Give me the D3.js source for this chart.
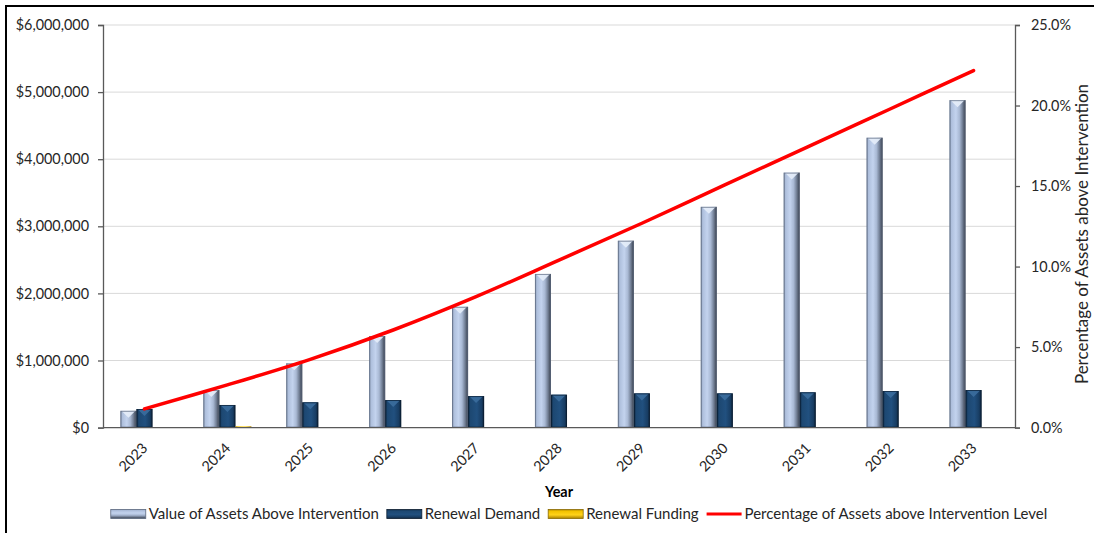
<!DOCTYPE html>
<html>
<head>
<meta charset="utf-8">
<script src="https://cdn.jsdelivr.net/npm/d3@7"></script>
<style>
  html, body { margin: 0; padding: 0; background: #fff; }
  svg { display: block; font-family: Lato, "Noto Sans", sans-serif; }
</style>
</head>
<body>
<svg id="chart" width="1094" height="533"></svg>
<script>
// Asset renewal projection by year
const years = ["2023", "2024", "2025", "2026", "2027", "2028", "2029", "2030", "2031", "2032", "2033"];
const valueAboveIntervention = [250000, 560000, 958000, 1365000, 1800000, 2290000, 2785000, 3290000, 3800000, 4320000, 4880000];
const renewalDemand = [277000, 337000, 377000, 411000, 470000, 490000, 510000, 510000, 526000, 545000, 560000];
const renewalFunding = [0, 20000, 0, 0, 0, 0, 0, 0, 0, 0, 0];
const pctAboveIntervention = [0.0116, 0.0265, 0.0424, 0.0606, 0.0813, 0.104, 0.1269, 0.1507, 0.1743, 0.198, 0.2217];

const leftTicks = [0, 1000000, 2000000, 3000000, 4000000, 5000000, 6000000];
const rightTicks = [0, 0.05, 0.10, 0.15, 0.20, 0.25];

const seriesNames = ["Value of Assets Above Intervention", "Renewal Demand", "Renewal Funding"];
const seriesValues = [valueAboveIntervention, renewalDemand, renewalFunding];
const lineName = "Percentage of Assets above Intervention Level";
const xTitle = "Year";
const yRightTitle = "Percentage of Assets above Intervention";

const svg = d3.select("#chart");
const plot = { left: 103, right: 1015, top: 25, bottom: 427.6 };
const textColor = "#262626";

// frame around the chart area
svg.append("rect")
  .attr("x", 6).attr("y", 6).attr("width", 1200).attr("height", 600)
  .attr("fill", "none").attr("stroke", "#000").attr("stroke-width", 2);

// gradients for the bevelled bars
const defs = svg.append("defs");
function grad(id, stops, vertical) {
  const g = defs.append("linearGradient").attr("id", id)
    .attr("x1", "0%").attr("x2", vertical ? "0%" : "100%")
    .attr("y1", "0%").attr("y2", vertical ? "100%" : "0%");
  stops.forEach(([o, c]) => g.append("stop").attr("offset", o).attr("stop-color", c));
}
const lightStops = [["0%", "#7f8fa8"], ["12%", "#aebfdc"], ["40%", "#c3d3ee"], ["62%", "#a9b9d4"], ["82%", "#6f7c92"], ["100%", "#353c48"]];
const darkStops = [["0%", "#0d2640"], ["15%", "#1d4872"], ["55%", "#21507f"], ["85%", "#183d63"], ["100%", "#0b1f35"]];
const goldStops = [["0%", "#b08800"], ["20%", "#f2c200"], ["60%", "#ffd21a"], ["100%", "#a67f00"]];
grad("gLight", lightStops, false);
grad("gDark", darkStops, false);
grad("gGold", goldStops, false);
grad("lg0", lightStops, true);
grad("lg1", darkStops, true);
grad("lg2", goldStops, true);

const capColors = ["#e4ecf9", "#3a6b9c", "#ffe680"];
const edgeColors = ["#5d6a80", "#0a1c30", "#8a6a00"];
const fills = ["url(#gLight)", "url(#gDark)", "url(#gGold)"];
const swatchFills = ["url(#lg0)", "url(#lg1)", "url(#lg2)"];

// scales
const x0 = d3.scaleBand().domain(years).range([plot.left, plot.right]).padding(0);
const x1 = d3.scaleBand().domain(d3.range(seriesNames.length))
  .range([x0.bandwidth() * 0.21, x0.bandwidth() * 0.79]).padding(0);
const yL = d3.scaleLinear().domain([0, 6000000]).range([plot.bottom, plot.top]);
const yR = d3.scaleLinear().domain([0, 0.25]).range([plot.bottom, plot.top]);

// gridlines
svg.append("g").selectAll("line").data(leftTicks.slice(1)).join("line")
  .attr("x1", plot.left).attr("x2", plot.right)
  .attr("y1", d => yL(d)).attr("y2", d => yL(d))
  .attr("stroke", "#d9d9d9").attr("stroke-width", 1);

// bars with a bevelled top
function drawBar(g, x, y, w, h, s) {
  if (h <= 0) return;
  g.append("rect").attr("x", x).attr("y", y).attr("width", w).attr("height", h)
    .attr("fill", fills[s]);
  const cap = Math.min(7, h / 2);
  g.append("polygon")
    .attr("points", `${x + 1},${y} ${x + w - 1},${y} ${x + w / 2},${y + cap}`)
    .attr("fill", capColors[s]).attr("opacity", 0.95);
  if (h > 3) {
    g.append("rect").attr("x", x + 0.5).attr("y", y + 0.5).attr("width", w - 1).attr("height", h - 1)
      .attr("fill", "none").attr("stroke", edgeColors[s]).attr("stroke-width", 1).attr("opacity", 0.7);
  }
}
const barsG = svg.append("g");
years.forEach((yr, i) => {
  seriesValues.forEach((vals, s) => {
    const v = vals[i];
    if (!v) return;
    const x = x0(yr) + x1(s);
    const y = yL(v);
    drawBar(barsG, x, y, x1.bandwidth(), plot.bottom - y, s);
  });
});

// axes
const axisL = svg.append("g").attr("transform", `translate(${plot.left},0)`)
  .call(d3.axisLeft(yL).tickValues(leftTicks).tickSize(5).tickPadding(9)
    .tickFormat(d => "$" + d3.format(",")(d)));
const axisR = svg.append("g").attr("transform", `translate(${plot.right},0)`)
  .call(d3.axisRight(yR).tickValues(rightTicks).tickSize(5).tickPadding(11)
    .tickFormat(d3.format(".1%")));
[axisL, axisR].forEach(a => {
  a.select(".domain").attr("stroke", "#595959").attr("stroke-width", 1.3);
  a.selectAll(".tick line").attr("stroke", "#595959").attr("stroke-width", 1.3);
  a.selectAll("text").attr("fill", textColor).style("font-size", "14.4px").style("font-family", "Lato");
});

// baseline
svg.append("line").attr("x1", plot.left).attr("x2", plot.right)
  .attr("y1", plot.bottom).attr("y2", plot.bottom)
  .attr("stroke", "#595959").attr("stroke-width", 1.3);

// year labels
svg.append("g").selectAll("text").data(years).join("text")
  .attr("transform", d => `translate(${x0(d) + x0.bandwidth() / 2 + 4},449) rotate(-45)`)
  .attr("text-anchor", "end")
  .attr("fill", textColor).style("font-size", "14.4px")
  .text(d => d);

// percentage line
const line = d3.line()
  .x((d, i) => x0(years[i]) + x0.bandwidth() / 2)
  .y(d => yR(d))
  .curve(d3.curveCatmullRom.alpha(0.5));
svg.append("path").datum(pctAboveIntervention)
  .attr("d", line).attr("fill", "none")
  .attr("stroke", "#ff0000").attr("stroke-width", 3.5).attr("stroke-linecap", "round");

// axis titles
svg.append("text").attr("x", (plot.left + plot.right) / 2).attr("y", 497)
  .attr("text-anchor", "middle").attr("fill", "#000")
  .style("font-size", "14.4px").style("font-weight", "bold").text(xTitle);
svg.append("text")
  .attr("transform", "translate(1088,234) rotate(-90)")
  .attr("text-anchor", "middle").attr("fill", textColor)
  .style("font-size", "17px").text(yRightTitle);

// legend
const legend = svg.append("g");
const items = seriesNames.map((n, s) => ({ name: n, type: "bar", s }))
  .concat([{ name: lineName, type: "line" }]);
let lx = 0;
const legendY = 514;
items.forEach(it => {
  const g = legend.append("g").attr("transform", `translate(${lx},0)`);
  if (it.type === "bar") {
    g.append("rect").attr("x", 0).attr("y", legendY - 4.5).attr("width", 35).attr("height", 9)
      .attr("fill", swatchFills[it.s]).attr("stroke", edgeColors[it.s]).attr("stroke-width", 0.8);
  } else {
    g.append("line").attr("x1", 0).attr("x2", 35).attr("y1", legendY).attr("y2", legendY)
      .attr("stroke", "#ff0000").attr("stroke-width", 3);
  }
  const t = g.append("text").attr("x", 38).attr("y", legendY + 5)
    .attr("fill", textColor).style("font-size", "15px").text(it.name);
  lx += 38 + t.node().getComputedTextLength() + 8;
});
const legendW = lx - 8;
legend.attr("transform", `translate(${579 - legendW / 2},0)`);
</script>
</body>
</html>
